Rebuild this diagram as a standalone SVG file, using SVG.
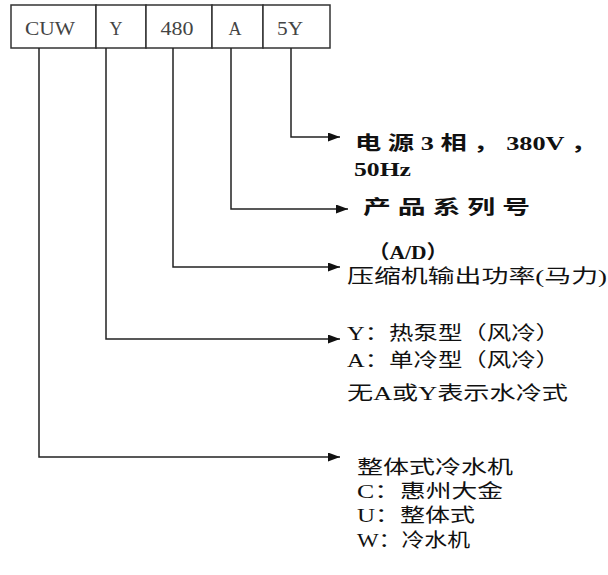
<svg xmlns="http://www.w3.org/2000/svg" width="608" height="575" viewBox="0 0 608 575">
<style>
.box{fill:#fff;stroke:#333;stroke-width:1.5}
.code{font-family:"Liberation Serif",serif;font-size:18px;fill:#444;text-anchor:middle}
.ln{fill:none;stroke:#222;stroke-width:1.5}
.t{font-family:"Liberation Serif","Noto Sans CJK SC",serif;font-size:19px;fill:#111}
.b{font-weight:bold}
</style>
<defs>
<marker id="ah" viewBox="0 0 12 9" refX="12" refY="4.5" markerWidth="12" markerHeight="9" markerUnits="userSpaceOnUse" orient="auto">
<path d="M0,0 L12,4.5 L0,9 Z" fill="#111"/>
</marker>
</defs>
<rect width="608" height="575" fill="#fff"/>
<g id="code-boxes">
<g id="box-CUW"><rect class="box" x="11" y="5" width="85" height="43"/><text class="code" x="50" y="35" textLength="50" lengthAdjust="spacingAndGlyphs">CUW</text></g>
<g id="box-Y"><rect class="box" x="96" y="5" width="50" height="43"/><text class="code" x="116" y="35">Y</text></g>
<g id="box-480"><rect class="box" x="146" y="5" width="66" height="43"/><text class="code" x="177" y="35" textLength="33" lengthAdjust="spacingAndGlyphs">480</text></g>
<g id="box-A"><rect class="box" x="212" y="5" width="51" height="43"/><text class="code" x="235" y="35">A</text></g>
<g id="box-5Y"><rect class="box" x="263" y="5" width="67" height="43"/><text class="code" x="290" y="35" textLength="26" lengthAdjust="spacingAndGlyphs">5Y</text></g>
</g>
<g id="connectors">
<polyline class="ln" points="291,48 291,137 340,137" marker-end="url(#ah)"/>
<polyline class="ln" points="231,48 231,209 348,209" marker-end="url(#ah)"/>
<polyline class="ln" points="173,48 173,267 340,267" marker-end="url(#ah)"/>
<polyline class="ln" points="106,48 106,339 340,339" marker-end="url(#ah)"/>
<polyline class="ln" points="39,48 39,457 340,457" marker-end="url(#ah)"/>
</g>
<g id="label-power">
<text class="t b" x="355" y="150" textLength="242" lengthAdjust="spacingAndGlyphs">电 源 3 相 ， 380V ，</text>
<text class="t b" x="354" y="176" textLength="57" lengthAdjust="spacingAndGlyphs">50Hz</text>
</g>
<g id="label-series">
<text class="t b" x="363" y="214" textLength="167" lengthAdjust="spacingAndGlyphs">产 品 系 列 号</text>
<text class="t b" x="368" y="259" textLength="80" lengthAdjust="spacingAndGlyphs">（A/D）</text>
</g>
<g id="label-capacity">
<text class="t" x="347" y="283" textLength="260" lengthAdjust="spacingAndGlyphs">压缩机输出功率(马力)</text>
</g>
<g id="label-type">
<text class="t" x="347" y="340" textLength="213" lengthAdjust="spacingAndGlyphs">Y：热泵型（风冷）</text>
<text class="t" x="347" y="367" textLength="213" lengthAdjust="spacingAndGlyphs">A：单冷型（风冷）</text>
<text class="t" x="347" y="400" textLength="221" lengthAdjust="spacingAndGlyphs">无A或Y表示水冷式</text>
</g>
<g id="label-model">
<text class="t" x="357" y="474" textLength="156" lengthAdjust="spacingAndGlyphs">整体式冷水机</text>
<text class="t" x="357" y="498" textLength="146" lengthAdjust="spacingAndGlyphs">C：惠州大金</text>
<text class="t" x="357" y="522" textLength="118" lengthAdjust="spacingAndGlyphs">U：整体式</text>
<text class="t" x="357" y="547" textLength="113" lengthAdjust="spacingAndGlyphs">W：冷水机</text>
</g>
</svg>
